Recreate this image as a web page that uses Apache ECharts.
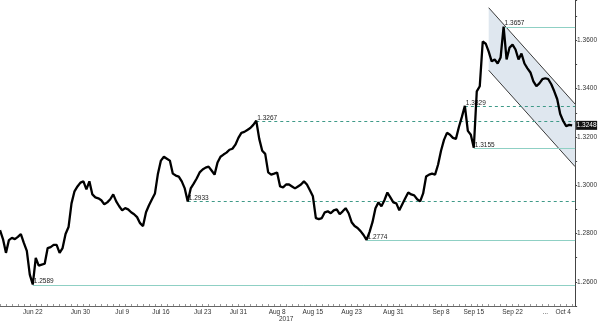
<!DOCTYPE html>
<html><head><meta charset="utf-8">
<script src="https://cdn.jsdelivr.net/npm/echarts@6/dist/echarts.min.js"></script>
<style>html,body{margin:0;padding:0;background:#fff}#c{width:600px;height:323px}</style>
</head><body><div id="c"></div>
<script>
// GBP/USD closes, one per time slot (Jun 2017 - Oct 2017)
const prices = [
1.2814,1.2777,1.2720,1.2773,1.2782,1.2777,1.2786,1.2798,1.2761,1.2728,
1.2630,1.2589,1.2699,1.2667,1.2671,1.2675,1.2740,1.2744,1.2753,1.2753,
1.2720,1.2740,1.2798,1.2827,1.2925,1.2975,1.2995,1.3011,1.3016,1.2983,
1.3016,1.2962,1.2950,1.2946,1.2938,1.2921,1.2929,1.2942,1.2962,1.2933,
1.2913,1.2896,1.2905,1.2900,1.2888,1.2880,1.2868,1.2843,1.2831,1.2888,
1.2917,1.2942,1.2966,1.3048,1.3102,1.3118,1.3110,1.3102,1.3048,1.3040,
1.3036,1.3016,1.2987,1.2933,1.2987,1.3007,1.3028,1.3053,1.3065,1.3073,
1.3077,1.3061,1.3044,1.3094,1.3118,1.3127,1.3135,1.3147,1.3151,1.3168,
1.3196,1.3217,1.3221,1.3229,1.3237,1.3250,1.3267,1.3192,1.3143,1.3130,
1.3053,1.3044,1.3048,1.3053,1.2995,1.2991,1.3003,1.3003,1.2995,1.2987,
1.2995,1.3003,1.3016,1.3003,1.2979,1.2954,1.2864,1.2860,1.2864,1.2888,
1.2892,1.2884,1.2896,1.2900,1.2880,1.2892,1.2905,1.2884,1.2847,1.2831,
1.2823,1.2810,1.2794,1.2774,1.2806,1.2847,1.2905,1.2929,1.2913,1.2938,
1.2970,1.2950,1.2929,1.2925,1.2896,1.2921,1.2946,1.2970,1.2962,1.2958,
1.2942,1.2933,1.2966,1.3036,1.3044,1.3048,1.3044,1.3085,1.3143,1.3188,
1.3217,1.3209,1.3196,1.3192,1.3241,1.3283,1.3329,1.3225,1.3209,1.3155,
1.3389,1.3410,1.3595,1.3586,1.3553,1.3513,1.3521,1.3504,1.3529,1.3657,
1.3521,1.3570,1.3582,1.3562,1.3521,1.3545,1.3504,1.3484,1.3467,1.3430,
1.3410,1.3422,1.3439,1.3443,1.3439,1.3418,1.3389,1.3356,1.3295,1.3266,
1.3245,1.3250,1.3248
];
const slotCount = 194;
const tickLabels = {11:'Jun 22',27:'Jun 30',41:'Jul 9',54:'Jul 16',68:'Jul 23',80:'Jul 31',93:'Aug 8',
  105:'Aug 15',118:'Aug 23',132:'Aug 31',148:'Sep 8',159:'Sep 15',172:'Sep 22',183:'...',189:'Oct 4'};
const yearLabel = '2017';
const yearLabelAt = 93;
// support / resistance levels
const levelValues = [1.3657, 1.3329, 1.3267, 1.3155, 1.2933, 1.2774, 1.2589];
const levelStarts = [169, 156, 86, 159, 63, 123, 11];
const levelDashed = [false, true, true, false, true, false, false];
// descending channel
const channelIdx = [164, 193];
const channelUpper = [1.3735, 1.3336];
const channelLower = [1.3476, 1.3077];
const lastPrice = 1.3248;

const categories = Array.from({length: slotCount}, (_, i) => tickLabels[i] || ('t' + i));
const FONT = '"Liberation Sans", Arial, sans-serif';
const chart = echarts.init(document.getElementById('c'));
chart.setOption({
  animation: false,
  backgroundColor: '#fff',
  grid: {left: 0, right: 22, top: 0, bottom: 14},
  xAxis: {
    type: 'category', data: categories, boundaryGap: false,
    axisLine: {lineStyle: {color: '#666', width: 1}},
    axisTick: {show: true, inside: true, length: 2, interval: 1, lineStyle: {color: '#999'}},
    axisLabel: {
      interval: (idx) => !!tickLabels[idx], margin: 3,
      fontSize: 6.5, fontFamily: FONT, color: '#333', lineHeight: 7,
      formatter: (v, idx) => idx === yearLabelAt ? '{a|' + tickLabels[idx] + '}\n{b|' + yearLabel + '}' : (tickLabels[idx] || ''),
      rich: {a: {fontSize: 6.5, fontFamily: FONT, color: '#333', lineHeight: 7},
             b: {fontSize: 6.5, fontFamily: FONT, color: '#333', lineHeight: 7, padding: [0, 0, 0, 18]}}
    },
    splitLine: {show: false}
  },
  yAxis: {
    type: 'value', position: 'right', min: 1.25, max: 1.3767, interval: 0.01, scale: true,
    axisLine: {show: true, lineStyle: {color: '#444', width: 1}},
    axisTick: {show: true, length: 2, lineStyle: {color: '#444'}},
    axisLabel: {
      margin: 2, fontSize: 6.5, fontFamily: FONT, color: '#333',
      formatter: (v) => {
        const h = v * 100, r = Math.round(h);
        if (Math.abs(h - r) > 1e-6 || r % 2 !== 0) return '';
        return v.toFixed(4);
      }
    },
    splitLine: {show: false}
  },
  series: [
    {
      type: 'custom', z: 1, clip: false,
      data: [[channelIdx[0], channelIdx[1], channelUpper[0], channelUpper[1], channelLower[0], channelLower[1]]],
      encode: {x: [0, 1], y: [2, 3, 4, 5]},
      renderItem: (params, api) => {
        const a = api.coord([api.value(0), api.value(2)]);
        const b = api.coord([api.value(1), api.value(3)]);
        const c = api.coord([api.value(1), api.value(5)]);
        const d = api.coord([api.value(0), api.value(4)]);
        return {type: 'group', children: [
          {type: 'polygon', shape: {points: [a, b, c, d]}, style: {fill: '#dfe7ef', stroke: null}},
          {type: 'line', shape: {x1: a[0], y1: a[1], x2: b[0], y2: b[1]}, style: {stroke: '#3a3a3a', lineWidth: 1}},
          {type: 'line', shape: {x1: d[0], y1: d[1], x2: c[0], y2: c[1]}, style: {stroke: '#3a3a3a', lineWidth: 1}}
        ]};
      }
    },
    {
      type: 'custom', z: 2, clip: false,
      data: levelValues.map((v, k) => [levelStarts[k], v, k]),
      encode: {x: 0, y: 1},
      renderItem: (params, api) => {
        const k = params.dataIndex;
        const v = levelValues[k];
        const p0 = api.coord([levelStarts[k], v]);
        const p1 = api.coord([slotCount - 1, v]);
        const dashed = levelDashed[k];
        return {type: 'group', children: [
          {type: 'line', shape: {x1: p0[0], y1: Math.round(p0[1]) + 0.5, x2: p1[0], y2: Math.round(p1[1]) + 0.5},
           style: {stroke: dashed ? '#3f9a88' : '#8fd0c4', lineWidth: 1, lineDash: dashed ? [3, 3] : null}},
          {type: 'text', z2: 10, style: {text: v.toFixed(4), x: p0[0] + 1, y: p0[1] + 0.5,
            font: '6.5px ' + FONT, fill: '#222', verticalAlign: 'bottom', align: 'left'}}
        ]};
      }
    },
    {
      type: 'line', z: 3, data: prices, symbol: 'none', smooth: false,
      lineStyle: {color: '#000', width: 2.3}
    },
    {
      type: 'custom', z: 4, clip: false,
      data: [[prices.length - 1, lastPrice]],
      encode: {x: 0, y: 1},
      renderItem: (params, api) => {
        const p = api.coord([slotCount - 1, api.value(1)]);
        return {type: 'group', children: [
          {type: 'rect', shape: {x: p[0] + 1, y: p[1] - 4.5, width: 21, height: 9}, style: {fill: '#111'}},
          {type: 'text', style: {text: lastPrice.toFixed(4), x: p[0] + 11.5, y: p[1], font: '6.5px ' + FONT,
            fill: '#fff', align: 'center', verticalAlign: 'middle'}}
        ]};
      }
    }
  ]
});
</script></body></html>
